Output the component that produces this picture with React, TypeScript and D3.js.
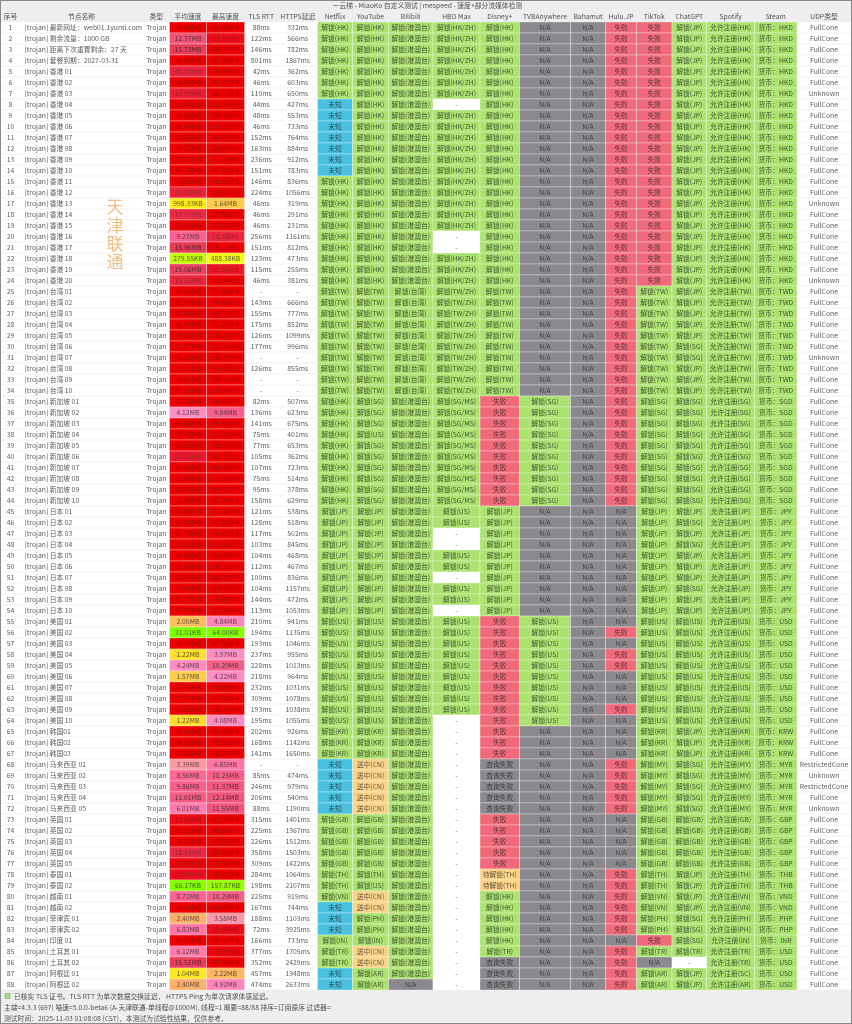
import React from 'react';
import * as d3 from 'd3';

const runs = (list: [string, number][]): string[] => list.flatMap(([v, n]) => Array.from({ length: n }, () => v));

const headers = ['序号','节点名称','类型','平均速度','最高速度','TLS RTT','HTTPS延迟','Netflix','YouTube','Bilibili','HBO Max','Disney+','TVBAnywhere','Bahamut','Hulu.JP','TikTok','ChatGPT','Spotify','Steam','UDP类型'];

const nodeNames = [
'最新网址：web01.1yunti.com','剩余流量：1000 GB','距离下次重置剩余：27 天','套餐到期：2027-03-31',
'香港 01','香港 02','香港 03','香港 04','香港 05','香港 06','香港 07','香港 08','香港 09','香港 10','香港 11','香港 12','香港 13','香港 14','香港 15','香港 16','香港 17','香港 18','香港 19','香港 20',
'台湾 01','台湾 02','台湾 03','台湾 04','台湾 05','台湾 06','台湾 07','台湾 08','台湾 09','台湾 10',
'新加坡 01','新加坡 02','新加坡 03','新加坡 04','新加坡 05','新加坡 06','新加坡 07','新加坡 08','新加坡 09','新加坡 10',
'日本 01','日本 02','日本 03','日本 04','日本 05','日本 06','日本 07','日本 08','日本 09','日本 10',
'美国 01','美国 02','美国 03','美国 04','美国 05','美国 06','美国 07','美国 08','美国 09','美国 10',
'韩国01','韩国02','韩国03',
'马来西亚 01','马来西亚 02','马来西亚 03','马来西亚 04','马来西亚 05',
'英国 01','英国 02','英国 03','英国 04','英国 05',
'泰国 01','泰国 02','越南 01','越南 02','菲律宾 01','菲律宾 02','印度 01','土耳其 01','土耳其 02','阿根廷 01','阿根廷 02'];

const avgSpeed = ['35.88MB','12.37MB','15.73MB','26.83MB','18.70MB','34.96MB','19.90MB','91.43MB','95.83MB','94.40MB','43.42MB','97.32MB','33.32MB','46.70MB','33.89MB','19.28MB','998.33KB','17.91MB','51.41MB','9.27MB','15.96MB','279.55KB','15.06MB','18.52MB','55.23MB','58.97MB','47.49MB','50.96MB','84.83MB','81.87MB','85.16MB','83.11MB','85.82MB','87.16MB','50.30MB','4.12MB','56.68MB','89.35MB','93.29MB','20.16MB','91.78MB','93.40MB','78.96MB','32.58MB','60.00MB','68.04MB','49.75MB','81.82MB','94.59MB','88.98MB','92.03MB','87.46MB','45.17MB','93.57MB','2.00MB','31.01KB','64.73MB','1.22MB','4.24MB','1.57MB','28.73MB','37.17MB','62.88MB','1.22MB','54.46MB','64.22MB','67.62MB','3.39MB','8.56MB','9.86MB','11.01MB','6.01MB','22.62MB','57.12MB','34.61MB','18.19MB','23.92MB','22.00MB','66.17KB','8.72MB','30.96MB','2.40MB','6.83MB','42.27MB','6.12MB','15.51MB','1.04MB','2.40MB'];

const maxSpeed = ['62.49MB','22.41MB','43.37MB','42.55MB','34.95MB','56.27MB','32.11MB','103.95MB','107.83MB','116.28MB','55.47MB','120.64MB','51.19MB','61.97MB','49.52MB','25.52MB','1.64MB','27.69MB','82.63MB','18.58MB','39.13MB','488.38KB','21.56MB','31.84MB','71.56MB','74.80MB','69.17MB','71.23MB','101.61MB','111.42MB','101.90MB','99.00MB','107.31MB','110.64MB','68.42MB','9.84MB','66.92MB','111.84MB','104.41MB','33.75MB','104.98MB','113.06MB','109.06MB','62.04MB','81.84MB','91.03MB','79.07MB','119.66MB','122.06MB','102.30MB','108.98MB','110.70MB','65.88MB','112.96MB','4.84MB','64.00KB','97.55MB','3.97MB','10.29MB','4.22MB','38.85MB','57.84MB','101.95MB','4.08MB','69.92MB','79.91MB','78.27MB','6.85MB','10.25MB','11.37MB','12.14MB','11.55MB','42.37MB','95.06MB','87.83MB','45.01MB','42.50MB','35.22MB','157.87KB','10.29MB','40.83MB','3.58MB','22.69MB','72.47MB','23.90MB','47.54MB','2.22MB','4.92MB'];

const tlsRtt = [88,122,146,801,42,46,110,44,48,46,152,163,236,151,146,224,46,46,46,256,151,123,115,46,'-',143,155,175,126,177,'-',126,'-','-',82,136,141,75,77,105,107,75,95,158,121,128,117,103,104,112,100,104,144,113,210,194,193,237,228,218,232,309,193,195,202,168,141,'-',85,246,206,88,315,225,226,358,309,284,198,225,167,188,72,166,377,352,457,474];

const httpsDelay = [332,566,782,1867,362,603,650,427,553,733,764,884,912,783,836,1056,319,291,231,1161,812,473,255,381,'-',666,777,852,1099,996,'-',855,'-','-',507,623,675,401,653,362,723,514,378,629,538,518,502,845,468,467,836,1157,472,1053,941,1135,1046,955,1013,964,1031,1078,1038,1055,926,1142,1650,'-',474,979,540,1190,1401,1367,1512,1503,1422,1064,2107,919,744,1103,3925,733,1705,2429,1948,2633];

const netflix = runs([['解锁(HK)',7],['未知',7],['解锁(HK)',10],['解锁(TW)',10],['解锁(HK)',10],['解锁(JP)',10],['解锁(US)',10],['解锁(KR)',3],['未知',5],['解锁(GB)',5],['解锁(TH)',2],['解锁(VN)',1],['未知',3],['解锁(IN)',1],['解锁(TR)',2],['未知',2]]);
const youtube = runs([['解锁(HK)',24],['解锁(TW)',10],['解锁(SG)',3],['解锁(US)',1],['解锁(SG)',6],['解锁(JP)',10],['解锁(US)',10],['解锁(KR)',3],['送中(CN)',5],['解锁(GB)',5],['解锁(TH)',1],['解锁(US)',1],['送中(CN)',2],['解锁(PH)',2],['解锁(IN)',1],['送中(CN)',2],['解锁(AR)',2]]);
const bilibili = runs([['解锁(港澳台)',24],['解锁(台湾)',10],['解锁(港澳台)',53],['N/A',1]]);
const hboMax = runs([['解锁(HK/ZH)',7],['-',1],['解锁(HK/ZH)',11],['-',2],['解锁(HK/ZH)',3],['解锁(TW/ZH)',10],['解锁(SG/MS)',10],['解锁(US)',2],['-',2],['解锁(US)',2],['-',1],['解锁(US)',2],['-',1],['解锁(US)',9],['-',25]]);
const disney = runs([['解锁(HK)',24],['解锁(TW)',10],['失败',10],['解锁(JP)',10],['失败',13],['查询失败',5],['失败',5],['待解锁(TH)',2],['解锁(HK)',5],['解锁(TR)',1],['查询失败',3]]);
const tvb = runs([['N/A',34],['解锁(SG)',10],['N/A',10],['解锁(US)',10],['N/A',24]]);
const bahamut = runs([['N/A',88]]);
const huluJp = runs([['失败',44],['N/A',11],['失败',1],['N/A',1],['失败',2],['N/A',3],['失败',1],['N/A',4],['失败',5],['N/A',5],['失败',6],['N/A',1],['失败',4]]);
const tiktok = runs([['失败',24],['解锁(TW)',10],['解锁(SG)',10],['解锁(JP)',10],['解锁(US)',10],['解锁(KR)',3],['解锁(MY)',5],['解锁(GB)',5],['解锁(TH)',2],['解锁(VN)',2],['解锁(PH)',2],['失败',1],['解锁(TR)',1],['N/A',1],['解锁(AR)',2]]);
const chatgpt = runs([['解锁(JP)',29],['解锁(SG)',2],['解锁(JP)',3],['解锁(SG)',10],['解锁(JP)',1],['解锁(SG)',1],['解锁(JP)',1],['解锁(SG)',1],['解锁(JP)',3],['解锁(SG)',1],['解锁(JP)',2],['解锁(US)',10],['解锁(JP)',3],['解锁(SG)',5],['解锁(GB)',5],['解锁(JP)',4],['解锁(SG)',3],['解锁(TR)',1],['-',1],['解锁(JP)',2]]);
const spotify = runs([['允许注册(HK)',24],['允许注册(TW)',10],['允许注册(SG)',10],['允许注册(JP)',10],['允许注册(US)',10],['允许注册(KR)',3],['允许注册(MY)',5],['允许注册(GB)',5],['允许注册(TH)',2],['允许注册(VN)',2],['允许注册(PH)',2],['允许注册(IN)',1],['允许注册(TR)',2],['允许注册(SC)',1],['允许注册(AR)',1]]);
const steam = runs([['货币：HKD',24],['货币：TWD',10],['货币：SGD',10],['货币：JPY',10],['货币：USD',10],['货币：KRW',3],['货币：MYR',5],['货币：GBP',5],['货币：THB',2],['货币：VND',2],['货币：PHP',2],['货币：INR',1],['货币：USD',4]]);
const udpType = runs([['FullCone',6],['Unknown',1],['FullCone',9],['Unknown',1],['FullCone',6],['Unknown',1],['FullCone',6],['Unknown',1],['FullCone',36],['RestrictedCone',1],['Unknown',1],['RestrictedCone',1],['FullCone',1],['Unknown',1],['FullCone',16]]);

const columnEdges = [1, 20, 143, 169.5, 206.5, 244.5, 278, 317.5, 352.5, 388.5, 433, 480, 519.5, 570.5, 605.5, 636.5, 672, 706.7, 754.5, 797, 851];
const rowIndex = d3.range(nodeNames.length);

const FONT = '"Noto Sans CJK SC","Noto Sans",sans-serif';
const GREEN = '#abe26f', GRAY = '#8b898d', RED = '#f06a7a', BLUE = '#49c2e2', ORANGE = '#fbd487';

const toMB = (s: string) => parseFloat(s) / (s.endsWith('KB') ? 1024 : 1);
const speedColor = d3.scaleLinear<string>()
  .domain([0.03, 0.16, 0.28, 0.49, 1.0, 1.6, 2.4, 4, 8, 12, 16, 20, 25])
  .range(['#7fff00','#99ff00','#c6fb10','#f4fb1a','#ffe81e','#ffcc4d','#fdb06a','#ff8ec4','#ff6a98','#f0557c','#e83a55','#ee1a30','#ee0000'])
  .clamp(true);

const statusColor = (s: string) => {
  if (s === '-') return '#ffffff';
  if (s === 'N/A' || s === '查询失败') return GRAY;
  if (s === '失败') return RED;
  if (s === '未知') return BLUE;
  if (s === '送中(CN)' || s.startsWith('待解锁')) return ORANGE;
  return GREEN;
};

const y = d3.scaleBand<number>().domain(rowIndex).range([22, 990]);
const x = d3.scaleOrdinal<number, number>().domain(d3.range(columnEdges.length)).range(columnEdges);

const statusColumns: [number, string[]][] = [
  [7, netflix],[8, youtube],[9, bilibili],[10, hboMax],[11, disney],[12, tvb],[13, bahamut],[14, huluJp],[15, tiktok],[16, chatgpt],[17, spotify],[18, steam],
];
const plainColumns: [number, (string | number)[]][] = [
  [0, rowIndex.map(i => i + 1)],
  [2, rowIndex.map(() => 'Trojan')],
  [5, tlsRtt.map(v => v === '-' ? v : v + 'ms')],
  [6, httpsDelay.map(v => v === '-' ? v : v + 'ms')],
  [19, udpType],
];
const speedColumns: [number, string[]][] = [[3, avgSpeed],[4, maxSpeed]];

const TS = 6.8;
const cx = (c: number) => (x(c) + x(c + 1)) / 2;

export default function App() {
  const h = y.bandwidth();
  return (
    <svg width={852} height={1024} viewBox="0 0 852 1024" style={{ position: 'absolute', left: 0, top: 0, display: 'block', fontFamily: FONT }}>
      <defs>
        <filter id="soft" x="0" y="0" width="100%" height="100%"><feGaussianBlur stdDeviation="0.28" /></filter>
      </defs>
      <g filter="url(#soft)">
        <rect x={0} y={0} width={852} height={1024} fill="#eeeeee" />
        <rect x={1} y={22} width={850} height={968} fill="#ffffff" />
        {rowIndex.map(i => <line key={i} x1={1} x2={851} y1={y(i)! + h} y2={y(i)! + h} stroke="#eeeeee" strokeWidth={0.8} />)}
        {speedColumns.map(([c, vals]) => vals.map((v, i) => (
          <g key={c + '-' + i}>
            <rect x={x(c)} y={y(i)} width={x(c + 1) - x(c)} height={h} fill={speedColor(toMB(v))} stroke="#ffffff" strokeOpacity={0.5} strokeWidth={0.6} />
            <text x={cx(c)} y={y(i)! + h / 2} dy="0.36em" textAnchor="middle" fontSize={TS} fill="#222222" opacity={toMB(v) >= 16 ? 0.38 : 0.72}>{v}</text>
          </g>
        )))}
        {statusColumns.map(([c, vals]) => vals.map((v, i) => (
          <g key={c + '-' + i}>
            <rect x={x(c)} y={y(i)} width={x(c + 1) - x(c)} height={h} fill={statusColor(v)} stroke="#ffffff" strokeOpacity={0.5} strokeWidth={0.6} />
            <text x={cx(c)} y={y(i)! + h / 2} dy="0.36em" textAnchor="middle" fontSize={TS} fill="#222222" opacity={0.72}>{v}</text>
          </g>
        )))}
        {plainColumns.map(([c, vals]) => vals.map((v, i) => (
          <text key={c + '-' + i} x={cx(c)} y={y(i)! + h / 2} dy="0.36em" textAnchor="middle" fontSize={TS} fill="#222222" opacity={0.75}>{v}</text>
        )))}
        {nodeNames.map((n, i) => (
          <text key={i} x={24.5} y={y(i)! + h / 2} dy="0.36em" fontSize={TS} fill="#222222" opacity={0.75}>{'[trojan] ' + n}</text>
        ))}
        {headers.map((t, c) => (
          <text key={t} x={cx(c)} y={16.5} dy="0.36em" textAnchor="middle" fontSize={TS} fill="#222222" opacity={0.78}>{t}</text>
        ))}
        <text x={427.5} y={5.8} dy="0.36em" textAnchor="middle" fontSize={TS} fill="#222222" opacity={0.78}>一云梯 - MiaoKo 自定义测试 | mespeed - 速度+部分流媒体检测</text>
        {['天', '津', '联', '通'].map((t, i) => (
          <text key={t} x={115} y={207 + i * 18.4} dy="0.36em" textAnchor="middle" fontSize={17} fill="#efc083">{t}</text>
        ))}
        <rect x={5} y={993.5} width={5} height={5} fill="#a8d88a" stroke="#70a860" strokeWidth={0.5} />
        <text x={14} y={996.2} dy="0.36em" fontSize={TS} fill="#222222" opacity={0.78}>已核实 TLS 证书。TLS RTT 为单次数据交换延迟， HTTPS Ping 为单次请求体感延迟。</text>
        <text x={4} y={1007.2} dy="0.36em" fontSize={TS} fill="#222222" opacity={0.78}>主端=4.3.3 (697) 喵速=5.0.0-beta6 (A-天津联通-单线程@1000M), 线程=1 概要=88/88 排序=订阅原序 过滤器=</text>
        <text x={4} y={1018.3} dy="0.36em" fontSize={TS} fill="#222222" opacity={0.78}>测试时间：2025-11-03 01:08:08 (CST)，本测试为试验性结果，仅供参考。</text>
        <rect x={0.5} y={0.5} width={851} height={1023} fill="none" stroke="#8a8a8a" strokeWidth={1} />
      </g>
    </svg>
  );
}
